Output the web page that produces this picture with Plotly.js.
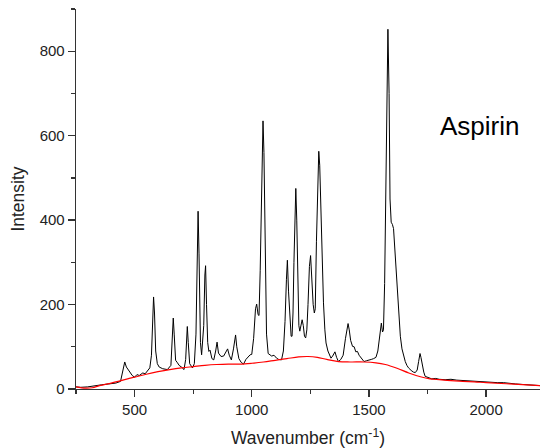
<!DOCTYPE html>
<html>
<head>
<meta charset="utf-8">
<script src="https://cdn.plot.ly/plotly-3.0.1.min.js"></script>
<style>html,body{margin:0;padding:0;background:#fff;}#chart{width:541px;height:448px;}</style>
</head>
<body>
<div id="chart"></div>
<script>
// Raman spectrum (black)
const specX = [250,270,300,330,360,390,420,440,450,458,465,475,490,500,510,520,535,545,555,565,572,577,581,585,590,597,605,620,640,655,661,665,669,675,683,690,700,711,718,722,725,729,735,747,755,762,767,771,775,781,786,795,800,803,807,812,817,822,830,838,846,852,858,869,880,890,897,904,913,922,928,931,936,945,955,965,975,985,993,1000,1008,1016,1021,1027,1031,1036,1042,1048,1052,1057,1063,1070,1077,1085,1095,1106,1115,1127,1135,1142,1148,1152,1157,1163,1168,1172,1176,1180,1184,1188,1192,1197,1201,1205,1210,1215,1220,1225,1230,1235,1240,1246,1251,1256,1262,1267,1271,1276,1281,1286,1290,1295,1300,1306,1312,1317,1325,1338,1345,1355,1362,1370,1380,1390,1400,1406,1411,1416,1422,1430,1437,1444,1451,1458,1465,1472,1479,1490,1500,1510,1520,1530,1538,1545,1550,1553,1558,1562,1567,1572,1577,1581,1586,1590,1595,1600,1605,1610,1615,1620,1627,1634,1641,1648,1655,1662,1669,1680,1690,1698,1706,1712,1718,1722,1728,1734,1740,1755,1768,1785,1800,1825,1850,1875,1900,1925,1950,1975,2000,2025,2050,2075,2100,2125,2150,2175,2200,2230];
const specY = [5,4,5,8,10,12,14,18,40,64,52,45,32,28,34,32,38,36,42,50,80,180,218,180,90,60,52,48,46,56,130,168,130,68,62,56,52,46,70,130,148,110,60,50,60,130,340,421,320,110,81,150,270,292,200,110,89,92,72,69,90,111,85,77,78,90,95,80,69,95,125,128,100,72,63,59,70,77,81,82,120,190,201,176,174,280,520,635,560,300,130,84,81,78,80,73,70,69,90,160,260,305,230,150,125,125,180,300,430,475,400,210,150,137,150,164,150,125,121,140,200,290,316,260,200,180,190,350,500,563,530,420,300,204,140,109,90,73,78,88,75,65,70,80,120,145,155,140,115,101,100,88,89,80,75,70,65,67,68,70,72,75,90,120,150,156,135,140,250,500,780,852,700,450,395,390,380,340,300,251,180,125,95,77,65,56,50,44,40,39,45,65,84,75,55,40,30,26,24,25,23,22,23,21,20,19,18,18,17,16,15,15,13,12,11,10,9,8];
// Fitted baseline (red)
const baseX = [250,290,320,350,400,430,470,500,550,600,650,700,750,800,850,900,950,1000,1050,1100,1150,1200,1240,1280,1320,1370,1420,1480,1530,1570,1620,1670,1720,1760,1800,1850,1900,1950,2000,2100,2230];
const baseY = [5,2,3,8,14,18,24,28,35,41,46,50,53,56,58,59,59,61,64,68,72,76,77,75,70,65,64,64,62,58,49,38,29,24,22,20,18,17,15,12,8];
const xTickVals = [500,1000,1500,2000];
const yTickVals = [0,200,400,600,800];
const labelText = "Aspirin";

const font = "Arial, 'Liberation Sans', sans-serif";
const traces = [
  {x: specX, y: specY, type: 'scatter', mode: 'lines', line: {color: '#000', width: 1}, hoverinfo: 'skip'},
  {x: baseX, y: baseY, type: 'scatter', mode: 'lines', line: {color: '#ff0000', width: 1.2, shape: 'spline'}, hoverinfo: 'skip'}
];
const layout = {
  width: 541, height: 448,
  margin: {l: 76, r: 1, t: 9, b: 59},
  paper_bgcolor: '#fff', plot_bgcolor: '#fff',
  showlegend: false,
  font: {family: font, color: '#222', size: 15},
  xaxis: {
    range: [250, 2230], tickmode: 'array', tickvals: xTickVals,
    ticks: 'outside', ticklen: 7, tickwidth: 1.3, tickcolor: '#333',
    showline: true, linecolor: '#333', linewidth: 1.3, showgrid: false, zeroline: false,
    minor: {tickmode: 'array', tickvals: [250,750,1250,1750], ticks: 'outside', ticklen: 4, tickwidth: 1.3, tickcolor: '#333', showgrid: false},
    tickfont: {size: 15, family: font, color: '#222'},
    title: {text: 'Wavenumber (cm<sup>-1</sup>)', font: {size: 17.5, family: font, color: '#222'}, standoff: 14}
  },
  yaxis: {
    range: [0, 900], tickmode: 'array', tickvals: yTickVals,
    ticks: 'outside', ticklen: 7, tickwidth: 1.3, tickcolor: '#333',
    showline: true, linecolor: '#333', linewidth: 1.3, showgrid: false, zeroline: false,
    minor: {tickmode: 'array', tickvals: [100,300,500,700,900], ticks: 'outside', ticklen: 4, tickwidth: 1.3, tickcolor: '#333', showgrid: false},
    tickfont: {size: 15, family: font, color: '#222'},
    title: {text: 'Intensity', font: {size: 17.5, family: font, color: '#222'}, standoff: 10}
  },
  annotations: [{
    x: 1973, y: 622, xref: 'x', yref: 'y', text: labelText, showarrow: false,
    xanchor: 'center', yanchor: 'middle', font: {size: 26, family: font, color: '#000'}
  }]
};
Plotly.newPlot('chart', traces, layout, {displayModeBar: false, staticPlot: true});
</script>
</body>
</html>
